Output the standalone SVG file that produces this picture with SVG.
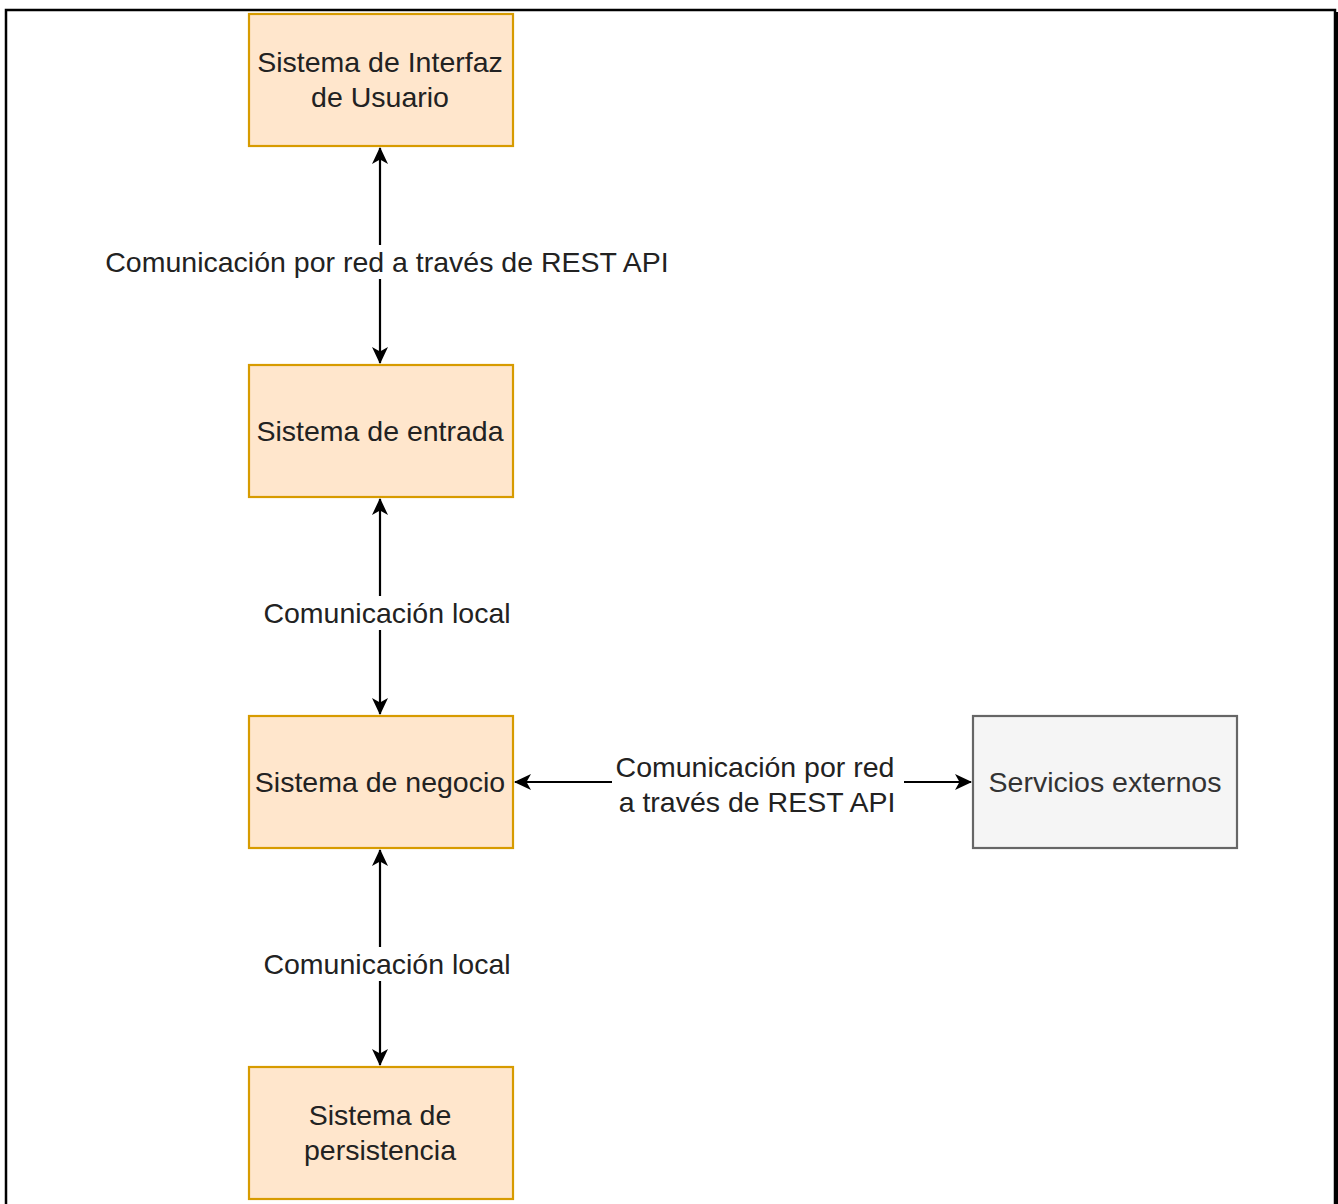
<svg xmlns="http://www.w3.org/2000/svg" width="1338" height="1204" viewBox="0 0 1338 1204">
  <style>
    .sys { fill: #ffe6cc; stroke: #d79b00; stroke-width: 2.2; }
    .ext { fill: #f5f5f5; stroke: #666666; stroke-width: 2.2; }
    .t { font-family: "Liberation Sans", Arial, sans-serif; font-size: 28.5px; fill: #222222; text-anchor: middle; }
    .te { fill: #333333; }
    .edge { stroke: #000; stroke-width: 2.2; fill: none; }
    .lblbg { fill: #ffffff; }
  </style>
  <defs>
    <marker id="arrow" viewBox="0 0 17 16" refX="16" refY="8" markerWidth="17" markerHeight="16" markerUnits="userSpaceOnUse" orient="auto-start-reverse">
      <path d="M0,0 L17,8 L0,16 L4.5,8 Z" fill="#000"/>
    </marker>
  </defs>
  <rect x="0" y="0" width="1338" height="1204" fill="#ffffff"/>
  <!-- page frame -->
  <path d="M6,1204 V10 H1335 V1204" fill="none" stroke="#000" stroke-width="2.5"/>
  <line x1="1337" y1="12" x2="1337" y2="1204" stroke="#000" stroke-width="2"/>

  <g id="connectors">
    <line class="edge" x1="380" y1="148" x2="380" y2="363" marker-start="url(#arrow)" marker-end="url(#arrow)"/>
    <line class="edge" x1="380" y1="499" x2="380" y2="714" marker-start="url(#arrow)" marker-end="url(#arrow)"/>
    <line class="edge" x1="380" y1="850" x2="380" y2="1065" marker-start="url(#arrow)" marker-end="url(#arrow)"/>
    <line class="edge" x1="515" y1="782" x2="971" y2="782" marker-start="url(#arrow)" marker-end="url(#arrow)"/>
    <g id="edge-labels">
      <rect class="lblbg" x="102" y="245" width="572" height="34"/>
      <text class="t" x="387" y="272">Comunicación por red a través de REST API</text>
      <rect class="lblbg" x="260" y="596" width="254" height="34"/>
      <text class="t" x="387" y="623">Comunicación local</text>
      <rect class="lblbg" x="612" y="749" width="292" height="70"/>
      <text class="t" x="755" y="777">Comunicación por red</text>
      <text class="t" x="757" y="812">a través de REST API</text>
      <rect class="lblbg" x="260" y="947" width="254" height="34"/>
      <text class="t" x="387" y="974">Comunicación local</text>
    </g>
  </g>

  <g id="ui">
    <rect class="sys" x="249" y="14" width="264" height="132"/>
    <text class="t" x="380" y="72">Sistema de Interfaz</text>
    <text class="t" x="380" y="107">de Usuario</text>
  </g>
  <g id="entrada">
    <rect class="sys" x="249" y="365" width="264" height="132"/>
    <text class="t" x="380" y="441">Sistema de entrada</text>
  </g>
  <g id="negocio">
    <rect class="sys" x="249" y="716" width="264" height="132"/>
    <text class="t" x="380" y="792">Sistema de negocio</text>
  </g>
  <g id="persistencia">
    <rect class="sys" x="249" y="1067" width="264" height="132"/>
    <text class="t" x="380" y="1125">Sistema de</text>
    <text class="t" x="380" y="1160">persistencia</text>
  </g>
  <g id="externos">
    <rect class="ext" x="973" y="716" width="264" height="132"/>
    <text class="t te" x="1105" y="792">Servicios externos</text>
  </g>
</svg>
